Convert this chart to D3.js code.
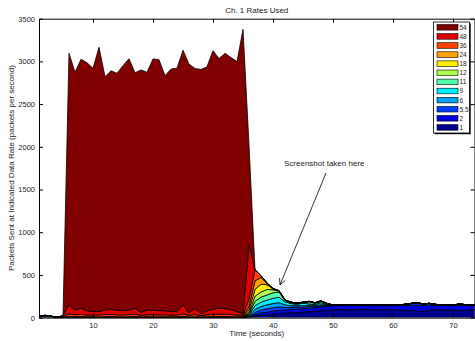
<!DOCTYPE html>
<html>
<head>
<meta charset="utf-8">
<script src="https://cdn.jsdelivr.net/npm/d3@7"></script>
<style>
  html, body { margin: 0; padding: 0; background: #fff; }
  text { font-family: "Liberation Sans", Arial, sans-serif; fill: #222; }
</style>
</head>
<body>
<svg id="chart" width="475" height="341"></svg>
<script>
// time in seconds, one sample per second
const times = d3.range(1, 75);

// packets per second sent at each rate (Mbps)
const rateLabels = ["1", "2", "5.5", "6", "9", "11", "12", "18", "24", "36", "48", "54"];

const rate1 = [10,18,12,4,3,3,4,3,2,3, 3,4,3,3,2,3,3,4,3,3, 2,3,3,4,3,3,2,3,3,4,
  3,3,2,3,3,5,15,25,30,40, 45,50,55,60,65,70,75,80,85,90, 100,92,88,95,100,97,90,92,98,95,
  85,80,88,75,72,85,95,90,88,92, 80,85,90,95];
const rate2 = [5,8,4,0,0,1,2,1,1,2, 1,1,2,1,1,2,1,1,2,1, 1,2,1,1,2,1,1,2,1,1,
  2,1,1,2,1,5,20,30,35,35, 40,40,40,40,40,40,43,45,47,50, 45,55,58,50,45,48,55,52,47,50,
  60,65,55,70,72,60,50,55,58,52, 65,60,55,50];
const rate5_5 = [0,0,0,0,0,0,0,0,0,0, 0,0,0,0,0,0,0,0,0,0, 0,0,0,0,0,0,0,0,0,0,
  0,0,0,0,0,5,25,35,40,40, 40,30,25,25,20,20,15,15,10,5, 3,0,2,5,4,2,0,3,5,8,
  5,10,20,25,15,20,10,5,3,5, 10,8,5,3];
const rate6 = [0,0,0,0,0,0,0,0,0,0, 0,0,0,0,0,0,0,0,0,0, 0,0,0,0,0,0,0,0,0,0,
  0,0,0,0,0,10,35,40,45,50, 50,30,20,15,15,15,10,10,10,2, 0,0,0,3,0,0,0,0,2,0,
  0,0,3,5,0,2,0,0,0,0, 2,0,0,0];
const rate9 = [0,0,0,0,0,0,0,0,0,0, 0,0,0,0,0,0,0,0,0,0, 0,0,0,0,0,0,0,0,0,0,
  0,0,0,0,0,10,45,50,55,60, 65,35,25,15,30,15,10,25,5,0, 0,0,0,0,0,0,0,0,0,0,
  0,0,0,0,0,0,0,0,0,0, 0,0,0,0];
const rate11 = [0,0,0,0,0,0,0,0,0,0, 0,0,0,0,0,0,0,0,0,0, 0,0,0,0,0,0,0,0,0,0,
  0,0,0,0,0,10,50,60,60,65, 60,15,10,10,5,25,15,15,5,0, 0,0,0,0,0,0,0,0,0,0,
  0,0,0,0,0,0,0,0,0,0, 0,0,0,0];
const rate12 = [0,0,0,0,0,0,0,0,0,0, 0,0,0,0,0,0,0,0,0,0, 0,0,0,0,0,0,0,0,0,0,
  0,0,0,0,0,15,60,60,65,35, 10,5,5,5,5,5,5,5,3,0, 0,0,0,0,0,0,0,0,0,0,
  0,0,0,0,0,0,0,0,0,0, 0,0,0,0];
const rate18 = [0,0,0,0,0,0,0,0,0,0, 0,0,0,0,0,0,0,0,0,0, 0,0,0,0,0,0,0,0,0,0,
  0,0,0,0,0,30,80,90,55,10, 5,0,0,0,0,0,0,0,0,0, 0,0,0,0,0,0,0,0,0,0,
  0,0,0,0,0,0,0,0,0,0, 0,0,0,0];
const rate24 = [0,0,0,0,3,10,6,8,6,5, 5,6,8,6,6,6,8,5,6,6, 6,6,5,5,10,5,8,4,6,8,
  8,8,8,6,5,40,100,80,15,5, 0,0,0,0,0,0,0,0,0,0, 0,0,0,0,0,0,0,0,0,0,
  0,0,0,0,0,0,0,0,0,0, 0,0,0,0];
const rate36 = [0,0,0,0,8,30,22,25,20,20, 22,25,25,22,22,25,28,18,22,25, 22,22,20,20,30,18,25,15,22,25,
  28,28,25,20,15,90,130,20,5,0, 0,0,0,0,0,0,0,0,0,0, 0,0,0,0,0,0,0,0,0,0,
  0,0,0,0,0,0,0,0,0,0, 0,0,0,0];
const rate48 = [0,0,0,0,10,104,55,72,53,40, 39,53,59,57,51,53,68,31,56,55, 50,49,40,42,104,29,72,21,49,63,
  69,68,58,40,25,630,0,0,0,0, 0,0,0,0,0,0,0,0,0,0, 0,0,0,0,0,0,0,0,0,0,
  0,0,0,0,0,0,0,0,0,0, 0,0,0,0];
const rate54 = [0,0,0,0,0,2947,2783,2916,2903,2849, 3095,2732,2794,2772,2868,2943,2759,2841,2783,2939,
  2939,2751,2841,2849,2982,2912,2810,2860,2856,3025, 2923,2986,2951,2927,3326,1170,0,0,0,0,
  0,0,0,0,0,0,0,0,0,0, 0,0,0,0,0,0,0,0,0,0, 0,0,0,0,0,0,0,0,0,0, 0,0,0,0];

const seriesValues = [rate1, rate2, rate5_5, rate6, rate9, rate11, rate12, rate18, rate24, rate36, rate48, rate54];

// jet colormap, sampled the way the plot picked them
const rateColors = ["#00008f", "#0000df", "#0040ff", "#00a0ff", "#00efff", "#50ffaf",
  "#afff50", "#ffef00", "#ffa000", "#ff4000", "#df0000", "#800000"];

const xTicks = [10, 20, 30, 40, 50, 60, 70];
const yTicks = [0, 500, 1000, 1500, 2000, 2500, 3000, 3500];

const svg = d3.select("#chart");
const plotLeft = 39, plotRight = 474.5, plotTop = 18.7, plotBottom = 317.6;

const x = d3.scaleLinear().domain([1, 73.58]).range([plotLeft, plotRight]);
const y = d3.scaleLinear().domain([0, 3500]).range([plotBottom, plotTop]);

const rows = times.map((t, i) => {
    const r = { t: t };
    rateLabels.forEach((k, j) => { r[k] = seriesValues[j][i]; });
    return r;
});

const stacked = d3.stack().keys(rateLabels)(rows);

svg.append("clipPath").attr("id", "plotClip")
    .append("rect")
    .attr("x", plotLeft).attr("y", plotTop)
    .attr("width", plotRight - plotLeft).attr("height", plotBottom - plotTop);

const area = d3.area()
    .x(d => x(d.data.t))
    .y0(d => y(d[0]))
    .y1(d => y(d[1]));

svg.append("g")
    .attr("clip-path", "url(#plotClip)")
    .selectAll("path")
    .data(stacked)
    .enter().append("path")
    .attr("d", area)
    .attr("fill", (d, i) => rateColors[i])
    .attr("stroke", "#000")
    .attr("stroke-width", 0.8)
    .attr("stroke-linejoin", "round");

// axes, MATLAB style: ticks pointing in, box all round
const fmt = d3.format("d");
const styleAxis = g => {
    g.select(".domain").attr("stroke", "#000").attr("stroke-width", 1);
    g.selectAll(".tick line").attr("stroke", "#000");
    g.selectAll("text").attr("font-size", "7.5px").attr("fill", "#222")
        .attr("font-family", "'Liberation Sans', Arial, sans-serif");
};

svg.append("g")
    .attr("transform", `translate(0,${plotBottom})`)
    .call(d3.axisBottom(x).tickValues(xTicks).tickSize(-4).tickSizeOuter(0).tickPadding(5).tickFormat(fmt))
    .call(styleAxis);

svg.append("g")
    .attr("transform", `translate(0,${plotTop})`)
    .call(d3.axisTop(x).tickValues(xTicks).tickSize(-4).tickSizeOuter(0).tickFormat(""))
    .call(styleAxis);

svg.append("g")
    .attr("transform", `translate(${plotLeft},0)`)
    .call(d3.axisLeft(y).tickValues(yTicks).tickSize(-4).tickSizeOuter(0).tickPadding(4).tickFormat(fmt))
    .call(styleAxis);

svg.append("g")
    .attr("transform", `translate(${plotRight},0)`)
    .call(d3.axisRight(y).tickValues(yTicks).tickSize(-4).tickSizeOuter(0).tickFormat(""))
    .call(styleAxis);

// titles
svg.append("text")
    .attr("x", (plotLeft + plotRight) / 2).attr("y", 13)
    .attr("text-anchor", "middle").attr("font-size", "8px")
    .text("Ch. 1 Rates Used");

svg.append("text")
    .attr("x", (plotLeft + plotRight) / 2).attr("y", 336)
    .attr("text-anchor", "middle").attr("font-size", "8px")
    .text("Time (seconds)");

svg.append("text")
    .attr("transform", `translate(14,${(plotTop + plotBottom) / 2}) rotate(-90)`)
    .attr("text-anchor", "middle").attr("font-size", "8px")
    .text("Packets Sent at Indicated Data Rate (packets per second)");

// annotation
svg.append("text")
    .attr("x", 284).attr("y", 166)
    .attr("font-size", "8px")
    .text("Screenshot taken here");

const ax1 = 326, ay1 = 173, ax2 = 280, ay2 = 285;
svg.append("line")
    .attr("x1", ax1).attr("y1", ay1).attr("x2", ax2).attr("y2", ay2)
    .attr("stroke", "#000").attr("stroke-width", 0.8);
const ang = Math.atan2(ay2 - ay1, ax2 - ax1);
[0.45, -0.45].forEach(da => {
    svg.append("line")
        .attr("x1", ax2).attr("y1", ay2)
        .attr("x2", ax2 - 7 * Math.cos(ang + da)).attr("y2", ay2 - 7 * Math.sin(ang + da))
        .attr("stroke", "#000").attr("stroke-width", 0.8);
});

// legend, top entry = fastest rate
const lgX = 433.5, lgY = 22, lgW = 36, lgH = 111, rowH = 9.1;
svg.append("rect")
    .attr("x", lgX + 1.2).attr("y", lgY + 1.2).attr("width", lgW).attr("height", lgH)
    .attr("fill", "#000");
svg.append("rect")
    .attr("x", lgX).attr("y", lgY).attr("width", lgW).attr("height", lgH)
    .attr("fill", "#fff").attr("stroke", "#000").attr("stroke-width", 0.8);

const legendItems = rateLabels.map((k, i) => ({ label: k, color: rateColors[i] })).reverse();
const lg = svg.append("g").selectAll("g")
    .data(legendItems).enter().append("g")
    .attr("transform", (d, i) => `translate(${lgX + 3.5},${lgY + 5.3 + i * rowH})`);
lg.append("rect")
    .attr("width", 21).attr("height", 5.6).attr("y", -2.8)
    .attr("fill", d => d.color).attr("stroke", "#000").attr("stroke-width", 0.6);
lg.append("text")
    .attr("x", 22.5).attr("y", 2.4)
    .attr("font-size", "6.5px")
    .text(d => d.label);
</script>
</body>
</html>
